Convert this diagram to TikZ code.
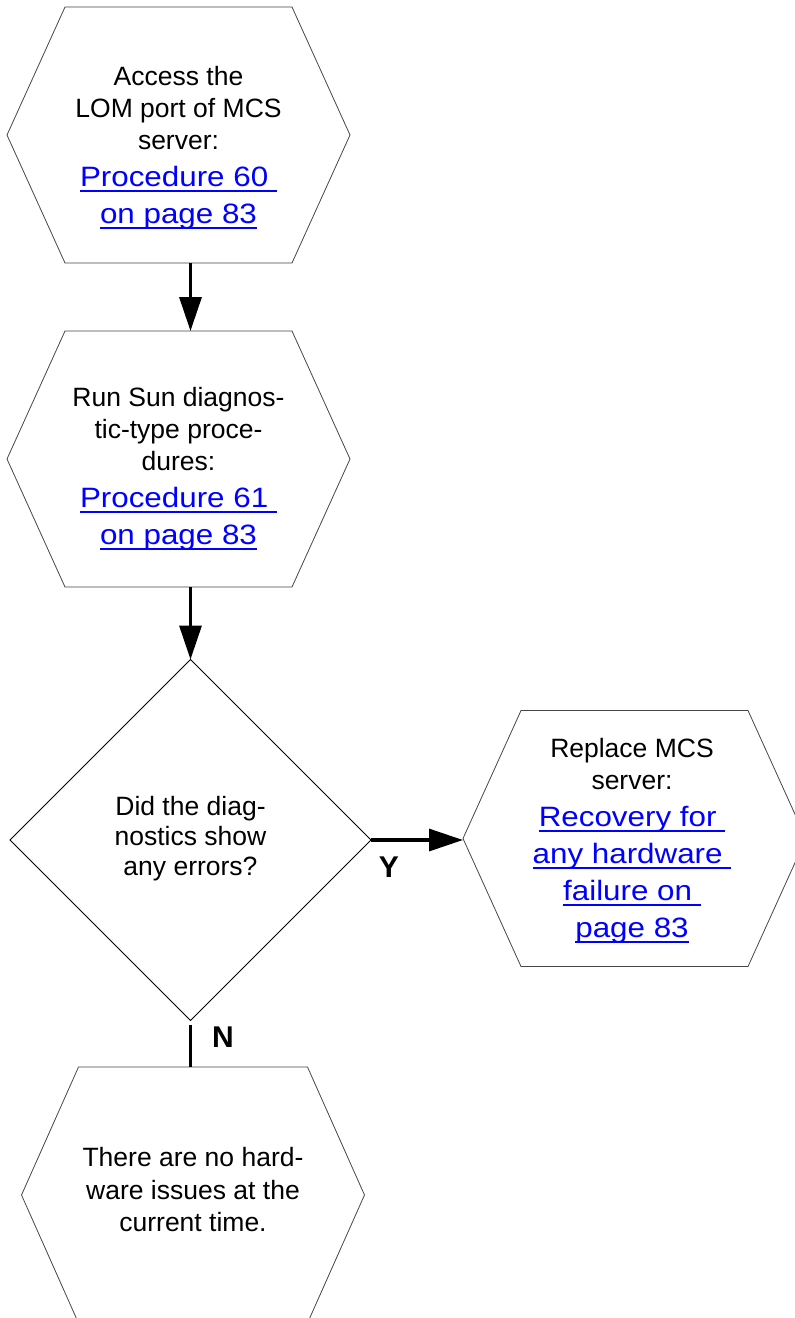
\documentclass[tikz,border=0pt]{standalone}
\usepackage{fontspec}
\setmainfont{Liberation Sans}
\newfontfamily\linkfont{Liberation Sans}[FakeStretch=1.12]
\usetikzlibrary{arrows.meta,shapes.geometric}
\definecolor{linkblue}{RGB}{0,0,255}
\definecolor{edgegray}{RGB}{70,70,70}
\newsavebox\lkbox
\newcommand\lk[1]{{\linkfont\fontsize{28}{32}\selectfont\color{linkblue}\sbox\lkbox{#1}\rlap{\rule[-5.5pt]{\wd\lkbox}{1.9pt}}\usebox\lkbox}}
\newcommand\hexpath[2]{\draw[hexline] (#1.west) -- ([xshift=#2]#1.north west) -- ([xshift=-#2]#1.north east) -- (#1.east) -- ([xshift=-#2]#1.south east) -- ([xshift=#2]#1.south west) -- cycle;}
\begin{document}
\begin{tikzpicture}[x=1pt,y=-1pt,
  hexshape/.style={rectangle,draw=none,minimum width=343pt,minimum height=256pt,inner sep=0pt,outer sep=0pt},
  hexline/.style={draw=edgegray,line width=0.8pt,line join=miter},
  dia/.style={diamond,draw=black,line width=0.8pt,minimum width=361pt,minimum height=361pt,inner sep=0pt,outer sep=0pt},
  txt/.style={align=center,inner sep=0pt,font=\fontsize{26.5}{32}\selectfont},
  lbl/.style={inner sep=0pt,font=\fontsize{30}{30}\selectfont\bfseries},
  conn/.style={line width=3.2pt,-{Triangle[length=34pt,width=22pt]}},
  plainconn/.style={line width=3.2pt}]
\clip (0,0) rectangle (795,1318);
\fill[white] (0,0) rectangle (795,1318);
% shapes
\node[hexshape] (h1) at (178.5,135) {};
\node[hexshape] (h2) at (178.5,459) {};
\node[dia] (d) at (190.5,840) {};
\node[hexshape] (h3) at (634.5,838.5) {};
\node[hexshape] (h4) at (193,1195) {};
\hexpath{h1}{58pt}
\hexpath{h2}{58pt}
\hexpath{h3}{58pt}
\hexpath{h4}{57pt}
% texts
\node[txt] (t1) at (178.5,148) {Access the\\LOM port of MCS\\server:\\[5pt]\lk{Procedure 60\ }\\[5pt]\lk{on page 83}};
\node[txt] (t2) at (178.5,469) {Run Sun diagnos-\\tic-type proce-\\dures:\\[5pt]\lk{Procedure 61\ }\\[5pt]\lk{on page 83}};
\node[txt,font=\fontsize{26.5}{30}\selectfont] (dt) at (190.5,839) {Did the diag-\\nostics show\\any errors?};
\node[txt] (t3) at (632,841) {Replace MCS\\server:\\[5pt]\lk{Recovery for\ }\\[5pt]\lk{any hardware\ }\\[5pt]\lk{failure on\ }\\[5pt]\lk{page 83}};
\node[txt,font=\fontsize{26.5}{32.5}\selectfont] (t4) at (193,1190) {There are no hard-\\ware issues at the\\current time.};
% labels
\node[lbl] (ylab) at (389,867) {Y};
\node[lbl] (nlab) at (223,1037) {N};
% connectors
\draw[conn] (h1.south -| d.north) -- (h2.north -| d.north);
\draw[conn] (h2.south -| d.north) -- (d.north);
\draw[conn] (d.east) -- (d.east -| h3.west);
\draw[plainconn] ([yshift=-4pt]d.south) -- (h4.north -| d.south);
\end{tikzpicture}
\end{document}
